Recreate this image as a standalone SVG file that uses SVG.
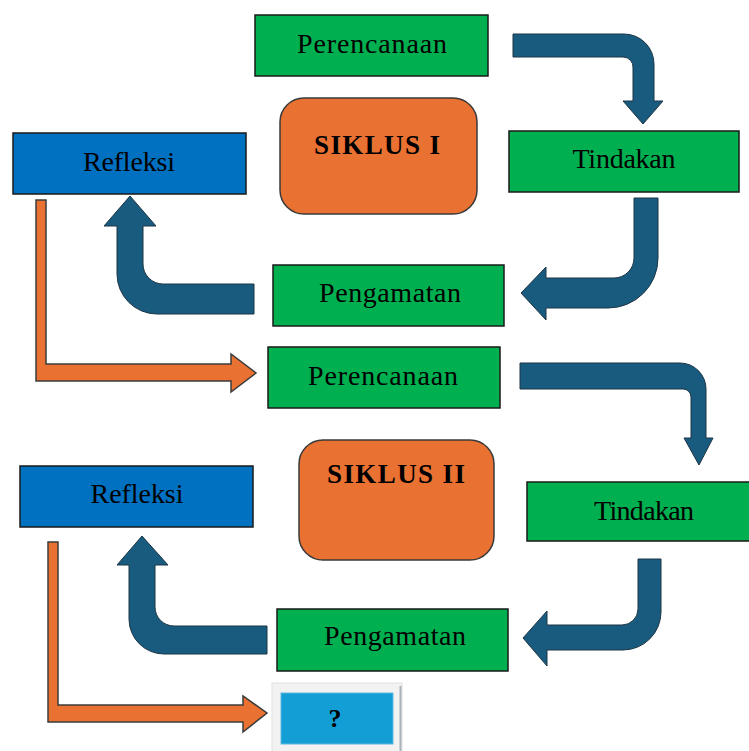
<svg xmlns="http://www.w3.org/2000/svg" width="749" height="751" viewBox="0 0 749 751">
<style>
.box{stroke:#1a1a1a;stroke-width:1.5}
.g{fill:#00b050}
.b{fill:#0070c0}
.o{fill:#e97132;stroke:#3a3a3a;stroke-width:1.5}
.t{font-family:"Liberation Serif",serif;font-size:28px;fill:#000;text-anchor:middle}
.tb{font-family:"Liberation Serif",serif;font-size:27px;font-weight:bold;fill:#000;text-anchor:middle}
.ba{fill:#195b7e;stroke:#1c3444;stroke-width:1}
.oa{fill:#e97132;stroke:#3c3c3c;stroke-width:1.5}
</style>
<rect width="749" height="751" fill="#ffffff"/>
<g id="connectors">
<path class="ba" d="M513,34 H624 A30,30 0 0 1 654,64 V101 H663 L643,124 L623,101 H633 V68 A10,10 0 0 0 623,57 H513 Z"/>
<path class="ba" d="M634,198 H658 V258 A50,50 0 0 1 608,308 H546 V320 L521,293 L546,267 V278 H614 A20,20 0 0 0 634,258 Z"/>
<path class="ba" d="M254,284 H163 A20,20 0 0 1 143,264 V226 H156 L130,196 L104,226 H117 V274 A40,40 0 0 0 157,314 H254 Z"/>
<path class="oa" d="M36,200 H46 V364 H231 V354 L256,373 L231,392 V381 H36 Z"/>
<path class="ba" d="M520,363 H680 A26,26 0 0 1 706,389 V438 H713 L699,465 L684,438 H691 V397 A8,8 0 0 0 683,389 H520 Z"/>
<path class="ba" d="M638,559 H661 V612 A38,38 0 0 1 623,650 H547 V666 L523,638 L547,611 V625 H622 A16,16 0 0 0 638,609 Z"/>
<path class="ba" d="M267,626 H174 A19,19 0 0 1 155,607 V565 H168 L142,536 L117,565 H129 V619 A35,35 0 0 0 164,654 H267 Z"/>
<path class="oa" d="M48,542 H58 V705 H243 V696 L267,713 L243,732 V722 H48 Z"/>
</g>
<g id="perencanaan1"><rect class="box g" x="255" y="15" width="233" height="61"/><text class="t" x="372" y="53" textLength="150">Perencanaan</text></g>
<g id="siklus1"><rect class="o" x="280" y="98" width="197" height="116" rx="24"/><text class="tb" x="377" y="154" textLength="126">SIKLUS I</text></g>
<g id="tindakan1"><rect class="box g" x="509" y="131" width="230" height="61"/><text class="t" x="624" y="168" textLength="103">Tindakan</text></g>
<g id="refleksi1"><rect class="box b" x="13" y="133" width="233" height="61"/><text class="t" x="129" y="171" textLength="92">Refleksi</text></g>
<g id="pengamatan1"><rect class="box g" x="273" y="265" width="231" height="61"/><text class="t" x="390" y="302" textLength="142">Pengamatan</text></g>
<g id="perencanaan2"><rect class="box g" x="268" y="347" width="232" height="61"/><text class="t" x="383" y="385" textLength="150">Perencanaan</text></g>
<g id="siklus2"><rect class="o" x="299" y="440" width="195" height="120" rx="24"/><text class="tb" x="396" y="483" textLength="138">SIKLUS II</text></g>
<g id="tindakan2"><rect class="box g" x="527" y="482" width="234" height="59"/><text class="t" x="644" y="520" textLength="100">Tindakan</text></g>
<g id="refleksi2"><rect class="box b" x="20" y="466" width="233" height="61"/><text class="t" x="137" y="503" textLength="93">Refleksi</text></g>
<g id="pengamatan2"><rect class="box g" x="277" y="609" width="231" height="62"/><text class="t" x="395" y="645" textLength="142">Pengamatan</text></g>
<g id="next"><rect x="272" y="683" width="130" height="70" fill="#f2f2f2" stroke="#e0e0e0" stroke-width="1"/><line x1="400.5" y1="686" x2="400.5" y2="751" stroke="#a9b3bb" stroke-width="2"/><rect x="281" y="693" width="112" height="51" fill="#139fd6" stroke="#5fb8e0" stroke-width="1"/><text x="335" y="727" font-family="Liberation Serif, serif" font-size="26" font-weight="bold" text-anchor="middle" fill="#000">?</text></g>
</svg>
